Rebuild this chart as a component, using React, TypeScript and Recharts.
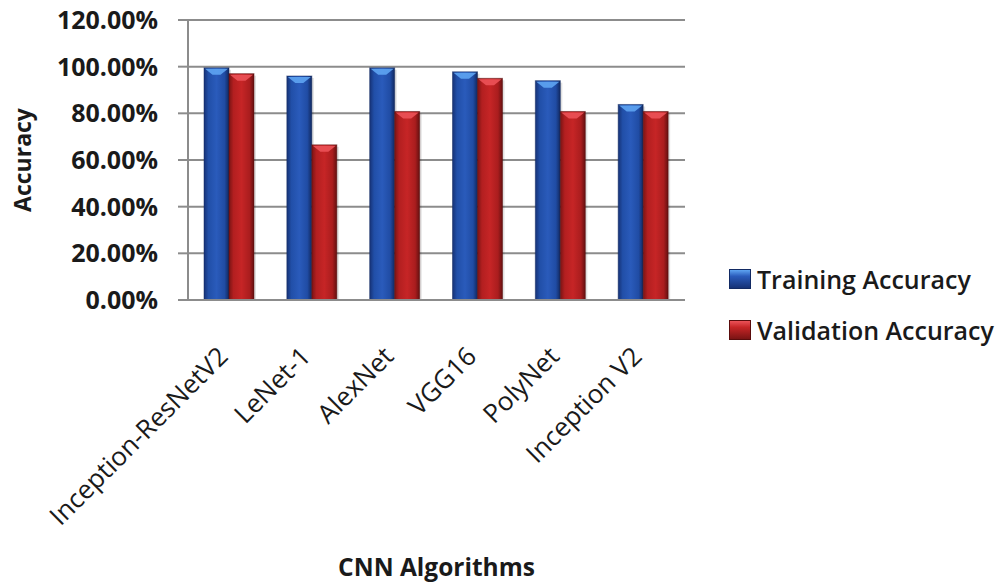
import React from 'react';
import { BarChart, Bar, XAxis, YAxis, CartesianGrid, Legend } from 'recharts';

const FONT = '"Open Sans", sans-serif';
const TEXT = '#1a1a1a';
const AXIS_GREY = '#8c8c8c';

const algorithms = ['Inception-ResNetV2', 'LeNet-1', 'AlexNet', 'VGG16', 'PolyNet', 'Inception V2'];
const trainingAccuracy = [99.5, 96, 99.5, 97.8, 94, 83.8];
const validationAccuracy = [97, 66.5, 80.8, 95, 80.8, 80.8];
const accuracyTicks = [0, 20, 40, 60, 80, 100, 120];

const series = [
  { key: 'training', label: 'Training Accuracy', tone: 'blue' },
  { key: 'validation', label: 'Validation Accuracy', tone: 'red' },
];

const data = algorithms.map((name, i) => ({
  name,
  training: trainingAccuracy[i],
  validation: validationAccuracy[i],
}));

const TONES: Record<string, { edge: string; cap: string }> = {
  blue: { edge: '#12296080', cap: '#5ea4f2' },
  red: { edge: '#5a0c0c80', cap: '#ec5258' },
};

// gradients live in their own tiny svg so every bar can reference them
function GradientDefs() {
  return (
    <svg width={0} height={0} style={{ position: 'absolute' }}>
      <defs>
        <linearGradient id="blueBody" x1="0" y1="0" x2="1" y2="0">
          <stop offset="0%" stopColor="#163276" />
          <stop offset="18%" stopColor="#214fa8" />
          <stop offset="50%" stopColor="#2a5bbb" />
          <stop offset="82%" stopColor="#204ca4" />
          <stop offset="100%" stopColor="#11285f" />
        </linearGradient>
        <linearGradient id="redBody" x1="0" y1="0" x2="1" y2="0">
          <stop offset="0%" stopColor="#7a1414" />
          <stop offset="18%" stopColor="#b31f20" />
          <stop offset="50%" stopColor="#c62526" />
          <stop offset="82%" stopColor="#aa1d1e" />
          <stop offset="100%" stopColor="#641010" />
        </linearGradient>
      </defs>
    </svg>
  );
}

function GlossyBar(props: any) {
  const { x, y, width, height, tone } = props;
  if (!height || height <= 0) return null;
  const t = TONES[tone];
  const capDepth = 7;
  return (
    <g>
      <rect x={x + 2} y={y + 2} width={width} height={height - 2} fill="#000" opacity={0.12} />
      <rect x={x} y={y} width={width} height={height} fill={`url(#${tone}Body)`} stroke={t.edge} strokeWidth={1} />
      <polygon
        points={`${x + 1},${y + 1} ${x + width - 1},${y + 1} ${x + width * 0.66},${y + capDepth} ${x + width * 0.34},${y + capDepth}`}
        fill={t.cap}
        opacity={0.9}
      />
    </g>
  );
}

function AlgorithmTick(props: any) {
  const { x, y, payload } = props;
  return (
    <g transform={`translate(${x},${y + 58})`}>
      <text textAnchor="end" transform="rotate(-45)" fill={TEXT} fontSize={26} fontFamily={FONT}>
        {payload.value}
      </text>
    </g>
  );
}

function AccuracyTitle(props: any) {
  const vb = props.viewBox;
  const cx = vb.x + 22;
  const cy = vb.y + vb.height / 2;
  return (
    <text
      x={cx}
      y={cy}
      transform={`rotate(-90 ${cx} ${cy})`}
      textAnchor="middle"
      dominantBaseline="central"
      fill={TEXT}
      fontSize={23}
      fontWeight={700}
      fontFamily={FONT}
    >
      Accuracy
    </text>
  );
}

function AlgorithmsTitle(props: any) {
  const vb = props.viewBox;
  return (
    <text
      x={vb.x + vb.width / 2}
      y={vb.y + vb.height - 8}
      textAnchor="middle"
      fill={TEXT}
      fontSize={24.5}
      fontWeight={700}
      fontFamily={FONT}
    >
      CNN Algorithms
    </text>
  );
}

function SeriesLegend() {
  return (
    <div style={{ fontFamily: FONT, fontSize: 25, fontWeight: 600, color: TEXT }}>
      {series.map((s) => (
        <div key={s.key} style={{ display: 'flex', alignItems: 'center', height: 51, whiteSpace: 'nowrap' }}>
          <span
            style={{
              display: 'inline-block',
              width: 20,
              height: 18,
              marginRight: 6,
              border: '1px solid ' + (s.tone === 'blue' ? '#122a63' : '#5a0c0c'),
              background:
                s.tone === 'blue'
                  ? 'linear-gradient(#5ea4f2, #2a5bbb 35%, #163276)'
                  : 'linear-gradient(#ec5258, #c62526 35%, #7a1414)',
            }}
          />
          {s.label}
        </div>
      ))}
    </div>
  );
}

export default function App() {
  return (
    <div style={{ position: 'absolute', left: 0, top: 0, width: 997, height: 584, background: '#fff' }}>
      <GradientDefs />
      <BarChart
        width={997}
        height={584}
        data={data}
        margin={{ top: 20, right: 312, bottom: 0, left: 0 }}
        barGap={0}
        barSize={25}
      >
        <CartesianGrid vertical={false} stroke={AXIS_GREY} strokeWidth={2} />
        <XAxis
          dataKey="name"
          height={284}
          interval={0}
          tickLine={false}
          tickSize={0}
          tickMargin={0}
          axisLine={{ stroke: AXIS_GREY, strokeWidth: 2 }}
          tick={<AlgorithmTick />}
          label={<AlgorithmsTitle />}
        />
        <YAxis
          width={188}
          domain={[0, 120]}
          ticks={accuracyTicks}
          interval={0}
          tickSize={10}
          tickMargin={20}
          tickFormatter={(v: number) => `${v.toFixed(2)}%`}
          axisLine={{ stroke: AXIS_GREY, strokeWidth: 2 }}
          tickLine={{ stroke: AXIS_GREY, strokeWidth: 2 }}
          tick={{ fill: TEXT, fontSize: 25, fontWeight: 700, fontFamily: FONT }}
          label={<AccuracyTitle />}
        />
        <Legend
          layout="horizontal"
          align="center"
          verticalAlign="middle"
          content={<SeriesLegend />}
          wrapperStyle={{ left: 729, top: 253, width: 268 }}
        />
        {series.map((s) => (
          <Bar
            key={s.key}
            dataKey={s.key}
            name={s.label}
            isAnimationActive={false}
            shape={(p: any) => <GlossyBar {...p} tone={s.tone} />}
          />
        ))}
      </BarChart>
    </div>
  );
}
